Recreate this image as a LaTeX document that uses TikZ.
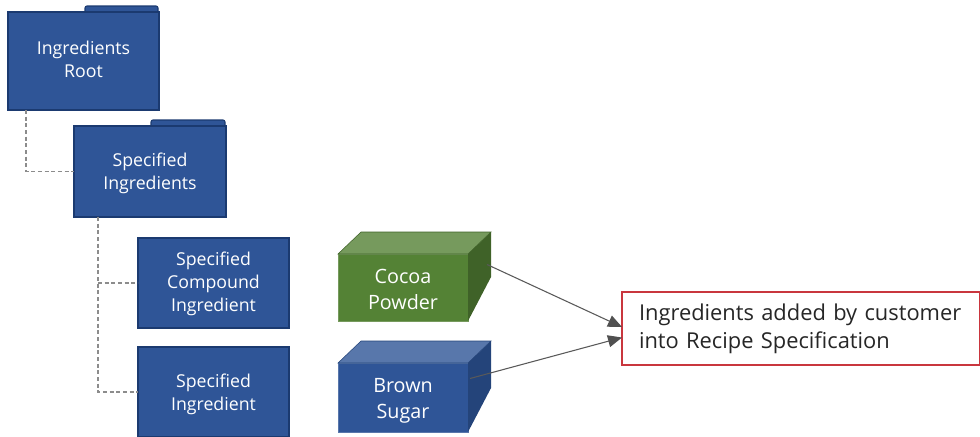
\documentclass[tikz,border=0pt]{standalone}
\usepackage{fontspec}
\setmainfont{Open Sans}
\usetikzlibrary{calc,arrows.meta}
\definecolor{fblue}{HTML}{2F5597}
\definecolor{dblue}{HTML}{1B3A70}
\definecolor{tblue}{HTML}{5877AB}
\definecolor{sblue}{HTML}{24447A}
\definecolor{fgreen}{HTML}{548235}
\definecolor{tgreen}{HTML}{769A5D}
\definecolor{sgreen}{HTML}{3F6228}
\definecolor{lgreen}{HTML}{3F6228}
\definecolor{redb}{HTML}{C9363E}
\definecolor{inktext}{HTML}{262626}
\definecolor{conn}{HTML}{595959}
\definecolor{dashc}{HTML}{8C8C8C}
\tikzset{
  x=0.75pt,y=-0.75pt,
  every node/.style={inner sep=0pt,outer sep=0pt},
  boxlabel/.style={align=center,text=white,font=\fontsize{13.3}{17.4}\selectfont},
  cubelabel/.style={align=center,text=white,font=\fontsize{14.8}{19.5}\selectfont},
  bluebox/.style={draw=dblue,line width=0.8pt,fill=fblue,anchor=north west},
  tabshape/.style={draw=dblue,line width=0.8pt,fill=fblue,anchor=north west,rounded corners=1.5pt},
  cubefront/.style={anchor=north west,line width=0.5pt},
  dashline/.style={draw=dashc,line width=0.8pt,densely dashed},
  arrowline/.style={draw=conn,line width=0.8pt,-{Triangle[length=10.5pt,width=9pt,color=conn!90!black]}},
  notebox/.style={draw=redb,line width=0.9pt,fill=white,text=inktext,anchor=north west,align=left,inner xsep=12.75pt,font=\fontsize{16.4}{21}\selectfont}
}
\begin{document}
\begin{tikzpicture}
\useasboundingbox (0,0) rectangle (980,436);
% folder tabs
\node[tabshape,minimum width=54.75pt,minimum height=7pt] (tabA) at (85,6) {};
\node[tabshape,minimum width=55.5pt,minimum height=7pt] (tabB) at (151,120) {};
% boxes
\node[bluebox,minimum width=113.25pt,minimum height=73.5pt,label={[boxlabel,yshift=1.2pt]center:{Ingredients\\Root}}] (root) at (8,12) {};
\node[bluebox,minimum width=114pt,minimum height=68.25pt,label={[boxlabel,yshift=-1.5pt]center:{Specified\\Ingredients}}] (spec) at (74,126) {};
\node[bluebox,minimum width=113.25pt,minimum height=67.5pt,label={[boxlabel,yshift=-0.7pt]center:{Specified\\Compound\\Ingredient}}] (comp) at (138,238) {};
\node[bluebox,minimum width=113.25pt,minimum height=67.5pt,label={[boxlabel,yshift=-1.5pt]center:{Specified\\Ingredient}}] (ingr) at (138,347) {};
% cocoa cube
\node[cubefront,fill=fgreen,draw=tgreen,minimum width=97.5pt,minimum height=50.25pt,label={[cubelabel,yshift=-1.8pt]center:{Cocoa\\Powder}}] (cocoa) at (338,254) {};
\fill[tgreen,draw=lgreen,line width=0.4pt] (cocoa.north west) -- ++(23,-22) -- ++(130,0) -- (cocoa.north east) -- cycle;
\fill[sgreen] (cocoa.north east) -- ++(23,-22) -- ++(0,45) -- (cocoa.south east) -- cycle;
% sugar cube
\node[cubefront,fill=fblue,draw=tblue,minimum width=97.5pt,minimum height=51.75pt,label={[cubelabel,yshift=-2.2pt]center:{Brown\\Sugar}}] (sugar) at (338,363) {};
\fill[tblue,draw=sblue,line width=0.4pt] (sugar.north west) -- ++(23,-22) -- ++(130,0) -- (sugar.north east) -- cycle;
\fill[sblue] (sugar.north east) -- ++(23,-22) -- ++(0,47) -- (sugar.south east) -- cycle;
% note
\node[notebox,minimum width=268.5pt,minimum height=54.75pt,text width=243pt] (note) at (622,292) {Ingredients added by customer\\into Recipe Specification};
% connectors
\coordinate (rootdrop) at ($(root.south west)+(18,0)$);
\coordinate (specdrop) at ($(spec.south west)+(24,0)$);
\draw[dashline] (rootdrop) |- (spec.west);
\draw[dashline] (specdrop) |- (ingr.west);
\draw[dashline] (specdrop |- comp.west) -- (comp.west);
\coordinate (cocoaout) at ($(cocoa.east)+(19,-23)$);
\coordinate (sugarout) at ($(sugar.east)+(2,-19)$);
\coordinate (noteinA) at ($(note.west)+(0,-1.5)$);
\coordinate (noteinB) at ($(note.west)+(0,9)$);
\draw[arrowline] (cocoaout) -- (noteinA);
\draw[arrowline] (sugarout) -- (noteinB);
\end{tikzpicture}
\end{document}
